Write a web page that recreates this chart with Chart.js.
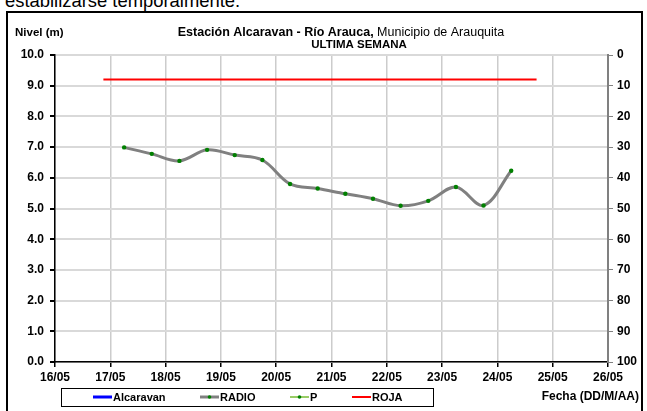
<!DOCTYPE html>
<html>
<head>
<meta charset="utf-8">
<script src="https://cdn.jsdelivr.net/npm/chart.js@4.4.1/dist/chart.umd.min.js"></script>
<style>
  html, body { margin: 0; padding: 0; background: #fff; width: 647px; height: 411px; overflow: hidden; }
  #intro { position: absolute; left: 5px; top: -8px; font: 18.4px "Liberation Sans", Arial, sans-serif; line-height: 18px; color: #000; white-space: nowrap; }
  #frame { position: absolute; left: 6px; top: 11px; width: 633px; height: 430px; border: 2px solid #000; }
  canvas { position: absolute; left: 0; top: 0; }
</style>
</head>
<body>
<div id="intro">estabilizarse temporalmente.</div>
<div id="frame"></div>
<canvas id="c" width="647" height="411"></canvas>
<script>
// ---- data ----
const xTickLabels = ['16/05','17/05','18/05','19/05','20/05','21/05','22/05','23/05','24/05','25/05','26/05'];
const radioTimes = ['17/05 06:00','17/05 18:00','18/05 06:00','18/05 18:00','19/05 06:00','19/05 18:00',
                    '20/05 06:00','20/05 18:00','21/05 06:00','21/05 18:00','22/05 06:00','22/05 18:00',
                    '23/05 06:00','23/05 18:00','24/05 06:00'];
const radioValues = [6.99, 6.78, 6.55, 6.91, 6.74, 6.58, 5.80, 5.65, 5.48, 5.32, 5.09, 5.25, 5.70, 5.10, 6.23];
const rojaTimes = ['16/05 21:00','24/05 17:00'];
const rojaValues = [9.2, 9.2];
const alcaravanTimes = [];
const alcaravanValues = [];
const pTimes = [];
const pValues = [];
const leftTicks = [0,1,2,3,4,5,6,7,8,9,10];
const rightTicks = [0,10,20,30,40,50,60,70,80,90,100];

const seriesNames = ['Alcaravan','RADIO','P','ROJA'];
const titleBold = 'Estación Alcaravan - Río Arauca,';
const titleNormal = ' Municipio de Arauquita';
const subTitle = 'ULTIMA SEMANA';
const yTitle = 'Nivel (m)';
const xTitle = 'Fecha (DD/M/AA)';

// convert "DD/MM HH:MM" to days after 16/05 00:00
function dayOffset(s) {
  const [d, t] = s.split(' ');
  const [dd] = d.split('/').map(Number);
  const [hh, mi] = t.split(':').map(Number);
  return (dd - 16) + hh / 24 + mi / 1440;
}
function pts(times, vals) { return times.map((t, i) => ({ x: dayOffset(t), y: vals[i] })); }

const FONT = '"Liberation Sans", Arial, sans-serif';

const decor = {
  id: 'decor',
  afterDraw(chart) {
    const ctx = chart.ctx;
    ctx.save();
    ctx.fillStyle = '#000';
    ctx.textBaseline = 'middle';
    // y title
    ctx.font = 'bold 11.5px ' + FONT;
    ctx.textAlign = 'left';
    ctx.fillText(yTitle, 15, 33);
    // main title (mixed bold/normal)
    ctx.font = 'bold 12.5px ' + FONT;
    const wb = ctx.measureText(titleBold).width;
    ctx.font = '12.5px ' + FONT;
    const wn = ctx.measureText(titleNormal).width;
    const x0 = 341 - (wb + wn) / 2;
    ctx.font = 'bold 12.5px ' + FONT;
    ctx.fillText(titleBold, x0, 33);
    ctx.font = '12.5px ' + FONT;
    ctx.fillText(titleNormal, x0 + wb, 33);
    ctx.font = 'bold 11.5px ' + FONT;
    ctx.textAlign = 'center';
    ctx.fillText(subTitle, 359, 44.5);
    // x title
    ctx.font = 'bold 12px ' + FONT;
    ctx.textAlign = 'right';
    ctx.fillText(xTitle, 639, 397);
    // legend box
    ctx.strokeStyle = '#000';
    ctx.lineWidth = 1;
    ctx.strokeRect(61.5, 388.5, 372, 18);
    const items = [
      { x: 93, ds: chart.data.datasets[0] },
      { x: 200, ds: chart.data.datasets[1] },
      { x: 290, ds: chart.data.datasets[2] },
      { x: 352, ds: chart.data.datasets[3] }
    ];
    const ly = 397;
    items.forEach(it => {
      ctx.strokeStyle = it.ds.borderColor;
      ctx.lineWidth = it.ds.legendWidth;
      ctx.beginPath();
      ctx.moveTo(it.x, ly);
      ctx.lineTo(it.x + 19, ly);
      ctx.stroke();
      if (it.ds.pointRadius > 0) {
        ctx.fillStyle = it.ds.pointBackgroundColor;
        ctx.beginPath();
        ctx.arc(it.x + 9.5, ly, 1.8, 0, Math.PI * 2);
        ctx.fill();
      }
      ctx.fillStyle = '#000';
      ctx.textAlign = 'left';
      ctx.font = 'bold 11px ' + FONT;
      ctx.fillText(it.ds.label, it.x + 20, ly + 0.5);
    });
    ctx.restore();
  }
};

new Chart(document.getElementById('c'), {
  type: 'line',
  data: {
    datasets: [
      { label: seriesNames[0], data: pts(alcaravanTimes, alcaravanValues), borderColor: '#0000ff', borderWidth: 2, legendWidth: 3, pointRadius: 0, yAxisID: 'y' },
      { label: seriesNames[1], data: pts(radioTimes, radioValues), borderColor: '#808080', borderWidth: 3, legendWidth: 3,
        tension: 0.35, pointRadius: 2.2, pointBackgroundColor: '#008000', pointBorderColor: '#008000', pointBorderWidth: 0, yAxisID: 'y' },
      { label: seriesNames[2], data: pts(pTimes, pValues), borderColor: '#99cc66', borderWidth: 2, legendWidth: 2,
        pointRadius: 2, pointBackgroundColor: '#008000', pointBorderColor: '#008000', yAxisID: 'y' },
      { label: seriesNames[3], data: pts(rojaTimes, rojaValues), borderColor: '#ff0000', borderWidth: 2, legendWidth: 2, pointRadius: 0, yAxisID: 'y' }
    ]
  },
  options: {
    responsive: false,
    devicePixelRatio: 1,
    animation: false,
    layout: { padding: { top: 55, left: 0, right: 0, bottom: 0 } },
    plugins: { legend: { display: false }, title: { display: false }, tooltip: { enabled: false } },
    scales: {
      x: {
        type: 'linear', min: 0, max: 10,
        afterFit(s) { s.height = 49; },
        afterBuildTicks(s) { s.ticks = xTickLabels.map((_, i) => ({ value: i })); },
        ticks: { callback: (v) => xTickLabels[v], color: '#000', font: { family: FONT, size: 12, weight: 'bold' }, padding: 3, maxRotation: 0, autoSkip: false },
        grid: { color: '#cccccc', lineWidth: 1.5, tickLength: 5, tickColor: '#000' },
        border: { color: '#000', width: 1.5 }
      },
      y: {
        position: 'left', min: 0, max: 10,
        afterFit(s) { s.width = 55; },
        afterBuildTicks(s) { s.ticks = leftTicks.map(v => ({ value: v })); },
        ticks: { callback: (v) => v.toFixed(1), color: '#000', font: { family: FONT, size: 12, weight: 'bold' }, padding: 6 },
        grid: { color: '#d9d9d9', lineWidth: 2, tickLength: 5, tickColor: '#000' },
        border: { color: '#000', width: 1.5 }
      },
      y2: {
        position: 'right', min: 0, max: 100, reverse: true,
        afterFit(s) { s.width = 39; },
        afterBuildTicks(s) { s.ticks = rightTicks.map(v => ({ value: v })); },
        ticks: { color: '#000', font: { family: FONT, size: 12, weight: 'bold' }, padding: 4 },
        grid: { drawOnChartArea: false, tickLength: 5, tickColor: '#808080' },
        border: { color: '#808080', width: 2 }
      }
    }
  },
  plugins: [decor]
});
</script>
</body>
</html>
